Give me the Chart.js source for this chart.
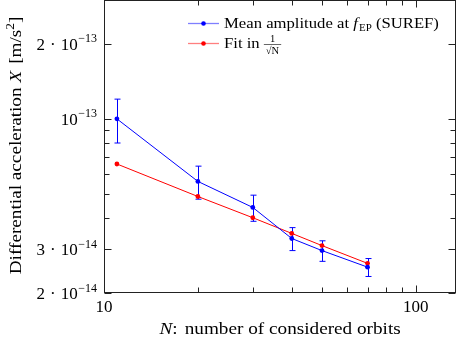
<!DOCTYPE html>
<html>
<head>
<meta charset="utf-8">
<script src="https://cdn.jsdelivr.net/npm/chart.js@4.4.1/dist/chart.umd.min.js"></script>
<style>
  html, body { margin: 0; padding: 0; background: #fff; }
  #wrap { width: 457px; height: 342px; }
</style>
</head>
<body>
<div id="wrap"><canvas id="chart" width="457" height="342"></canvas></div>
<script>
// data
var orbits = [11, 20, 30, 40, 50, 70];
var meanAmp = [1.00e-13, 5.61e-14, 4.41e-14, 3.31e-14, 2.96e-14, 2.54e-14];
var meanErr = [2.0e-14, 0.85e-14, 0.53e-14, 0.35e-14, 0.28e-14, 0.21e-14];
var fitVals = [6.59e-14, 4.88e-14, 4.01e-14, 3.47e-14, 3.10e-14, 2.63e-14];

// ticks
var xTicks = [10, 20, 30, 40, 50, 60, 70, 80, 90, 100];
var xTickLabels = ['10', '', '', '', '', '', '', '', '', '100'];
var yMajor = [2e-14, 3e-14, 1e-13, 2e-13];
var yMajorBase = ['2 · 10', '3 · 10', '10', '2 · 10'];
var yMajorExp = ['−14', '−14', '−13', '−13'];
var yMinor = [4e-14, 5e-14, 6e-14, 7e-14, 8e-14, 9e-14];

var SERIF = '"Liberation Serif", "DejaVu Serif", serif';
var BLUE = 'rgb(0,0,255)';
var RED = 'rgb(255,0,0)';

function pts(ys) {
    return orbits.map(function(x, i) { return { x: x, y: ys[i] }; });
}

// draw a list of text pieces one after another, stretched sideways a bit
function runsWidth(ctx, runs, sx) {
    var w = 0;
    runs.forEach(function(r) { ctx.font = r.font; w += ctx.measureText(r.t).width; });
    return w * (sx || 1);
}
function drawRuns(ctx, runs, x, y, sx) {
    sx = sx || 1;
    ctx.save();
    ctx.translate(x, y);
    ctx.scale(sx, 1);
    ctx.textBaseline = 'alphabetic';
    ctx.textAlign = 'left';
    var cx = 0;
    runs.forEach(function(r) {
        ctx.font = r.font;
        ctx.fillText(r.t, cx + (r.dx || 0), r.dy || 0);
        cx += ctx.measureText(r.t).width + (r.dx || 0);
    });
    ctx.restore();
    return x + cx * sx;
}

var axesPlugin = {
    id: 'axesPlugin',
    afterDatasetsDraw: function(chart) {
        var ctx = chart.ctx, a = chart.chartArea;
        var xs = chart.scales.x, ys = chart.scales.y;
        ctx.save();
        ctx.fillStyle = '#000';
        ctx.strokeStyle = '#222';
        ctx.lineWidth = 1;

        // frame
        var L = Math.round(a.left) + 0.5, R = Math.round(a.right) - 0.5;
        var T = Math.round(a.top) + 0.5, B = Math.round(a.bottom) - 0.5;
        ctx.strokeRect(L, T, R - L, B - T);

        // x ticks, bottom and top
        ctx.beginPath();
        xTicks.forEach(function(v, i) {
            var px = Math.round(xs.getPixelForValue(v)) + 0.5;
            var len = xTickLabels[i] ? 7 : 5;
            ctx.moveTo(px, B); ctx.lineTo(px, B - len);
            ctx.moveTo(px, T); ctx.lineTo(px, T + len);
        });
        // y ticks, left and right
        yMajor.concat(yMinor).forEach(function(v, i) {
            var py = Math.round(ys.getPixelForValue(v)) + 0.5;
            var len = i < yMajor.length ? 7 : 5;
            ctx.moveTo(L, py); ctx.lineTo(L + len, py);
            ctx.moveTo(R, py); ctx.lineTo(R - len, py);
        });
        ctx.stroke();

        // x tick labels
        ctx.font = '17px ' + SERIF;
        ctx.textAlign = 'center';
        ctx.textBaseline = 'alphabetic';
        xTicks.forEach(function(v, i) {
            if (!xTickLabels[i]) return;
            ctx.fillText(xTickLabels[i], xs.getPixelForValue(v), 312);
        });

        // y tick labels with exponent
        yMajor.forEach(function(v, i) {
            var py = ys.getPixelForValue(v);
            var parts = yMajorBase[i].split(' · ');
            var runs = parts.length > 1 ? [
                { t: parts[0], font: '17px ' + SERIF },
                { t: '·', font: '17px ' + SERIF, dx: 5 },
                { t: parts[1], font: '17px ' + SERIF, dx: 5 }
            ] : [{ t: parts[0], font: '17px ' + SERIF }];
            runs.push({ t: yMajorExp[i], font: '12px ' + SERIF, dy: -7.5, dx: 0.5 });
            var w = runsWidth(ctx, runs) + (parts.length > 1 ? 10 : 0) + 0.5;
            drawRuns(ctx, runs, 97 - w, py + 6);
        });

        // x axis title
        var xt = [
            { t: 'N', font: 'italic 17px ' + SERIF },
            { t: ':', font: '17px ' + SERIF },
            { t: ' number of considered orbits', font: '17px ' + SERIF, dx: 2 }
        ];
        var sx = 1.13;
        var cx = (a.left + a.right) / 2;
        drawRuns(ctx, xt, cx - runsWidth(ctx, xt, sx) / 2 - 1, 334, sx);

        // y axis title, rotated
        var yt = [
            { t: 'Differential acceleration ', font: '17px ' + SERIF },
            { t: 'X', font: 'italic 17px ' + SERIF },
            { t: ' [m/s', font: '17px ' + SERIF, dx: 2 },
            { t: '2', font: '12px ' + SERIF, dy: -7 },
            { t: ']', font: '17px ' + SERIF }
        ];
        ctx.save();
        ctx.translate(21, (a.top + a.bottom) / 2);
        ctx.rotate(-Math.PI / 2);
        drawRuns(ctx, yt, -runsWidth(ctx, yt, sx) / 2, 0, sx);
        ctx.restore();

        // legend
        var ls = 1.15;
        var rows = [
            { color: BLUE, y: 23, runs: [
                { t: 'Mean amplitude at ', font: '14.5px ' + SERIF },
                { t: 'f', font: 'italic 14.5px ' + SERIF },
                { t: 'EP', font: '9.5px ' + SERIF, dy: 3, dx: 1 },
                { t: ' (SUREF)', font: '14.5px ' + SERIF }
            ] },
            { color: RED, y: 43, runs: [
                { t: 'Fit in ', font: '14.5px ' + SERIF }
            ], frac: true }
        ];
        rows.forEach(function(r) {
            ctx.strokeStyle = r.color;
            ctx.globalAlpha = 0.5;
            ctx.lineWidth = 1.3;
            ctx.beginPath();
            ctx.moveTo(188, r.y + 0.5); ctx.lineTo(219, r.y + 0.5);
            ctx.stroke();
            ctx.globalAlpha = 1;
            ctx.fillStyle = r.color;
            ctx.beginPath();
            ctx.arc(203.5, r.y + 0.5, 2.3, 0, Math.PI * 2);
            ctx.fill();
            ctx.fillStyle = '#000';
            var ex = drawRuns(ctx, r.runs, 224, r.y + 5, ls);
            if (r.frac) {
                ctx.font = '10.5px ' + SERIF;
                var dw = ctx.measureText('√N').width + 2;
                ctx.textAlign = 'center';
                ctx.fillText('1', ex + dw / 2 + 1, r.y - 1);
                ctx.fillText('√N', ex + dw / 2 + 1, r.y + 11);
                ctx.strokeStyle = '#000';
                ctx.lineWidth = 0.6;
                ctx.beginPath();
                ctx.moveTo(ex, r.y + 1.5); ctx.lineTo(ex + dw + 2, r.y + 1.5);
                ctx.stroke();
            }
        });

        ctx.restore();
    }
};

var errorBarPlugin = {
    id: 'errorBarPlugin',
    beforeDatasetsDraw: function(chart) {
        var ctx = chart.ctx, xs = chart.scales.x, ys = chart.scales.y;
        ctx.save();
        ctx.strokeStyle = BLUE;
        ctx.lineWidth = 1;
        ctx.beginPath();
        orbits.forEach(function(n, i) {
            var px = Math.round(xs.getPixelForValue(n)) + 0.5;
            var top = ys.getPixelForValue(meanAmp[i] + meanErr[i]);
            var bot = ys.getPixelForValue(meanAmp[i] - meanErr[i]);
            ctx.moveTo(px, top); ctx.lineTo(px, bot);
            ctx.moveTo(px - 3, top); ctx.lineTo(px + 3, top);
            ctx.moveTo(px - 3, bot); ctx.lineTo(px + 3, bot);
        });
        ctx.stroke();
        ctx.restore();
    }
};

var ctx = document.getElementById('chart').getContext('2d');
var chart = new Chart(ctx, {
    type: 'line',
    data: {
        datasets: [
            {
                label: 'Mean amplitude at f_EP (SUREF)',
                data: pts(meanAmp),
                borderColor: BLUE,
                backgroundColor: BLUE,
                borderWidth: 1,
                pointRadius: 2.4,
                pointBorderWidth: 0,
                pointBackgroundColor: BLUE,
                tension: 0,
            },
            {
                label: 'Fit in 1/sqrt(N)',
                data: pts(fitVals),
                borderColor: RED,
                backgroundColor: RED,
                borderWidth: 1,
                pointRadius: 2.4,
                pointBorderWidth: 0,
                pointBackgroundColor: RED,
                tension: 0,
            },
        ],
    },
    options: {
        responsive: false,
        animation: false,
        devicePixelRatio: 1,
        layout: { autoPadding: false, padding: { top: 0, right: 1, left: 0, bottom: 0 } },
        plugins: {
            legend: { display: false },
            tooltip: { enabled: false },
        },
        scales: {
            x: {
                type: 'logarithmic',
                min: 10,
                max: 134.5,
                grid: { display: false },
                border: { display: false },
                ticks: { display: false },
                afterFit: function(s) { s.height = 49; },
            },
            y: {
                type: 'logarithmic',
                min: 2e-14,
                max: 3e-13,
                grid: { display: false },
                border: { display: false },
                ticks: { display: false },
                afterFit: function(s) { s.width = 104; },
            },
        },
    },
    plugins: [errorBarPlugin, axesPlugin],
});
</script>
</body>
</html>
